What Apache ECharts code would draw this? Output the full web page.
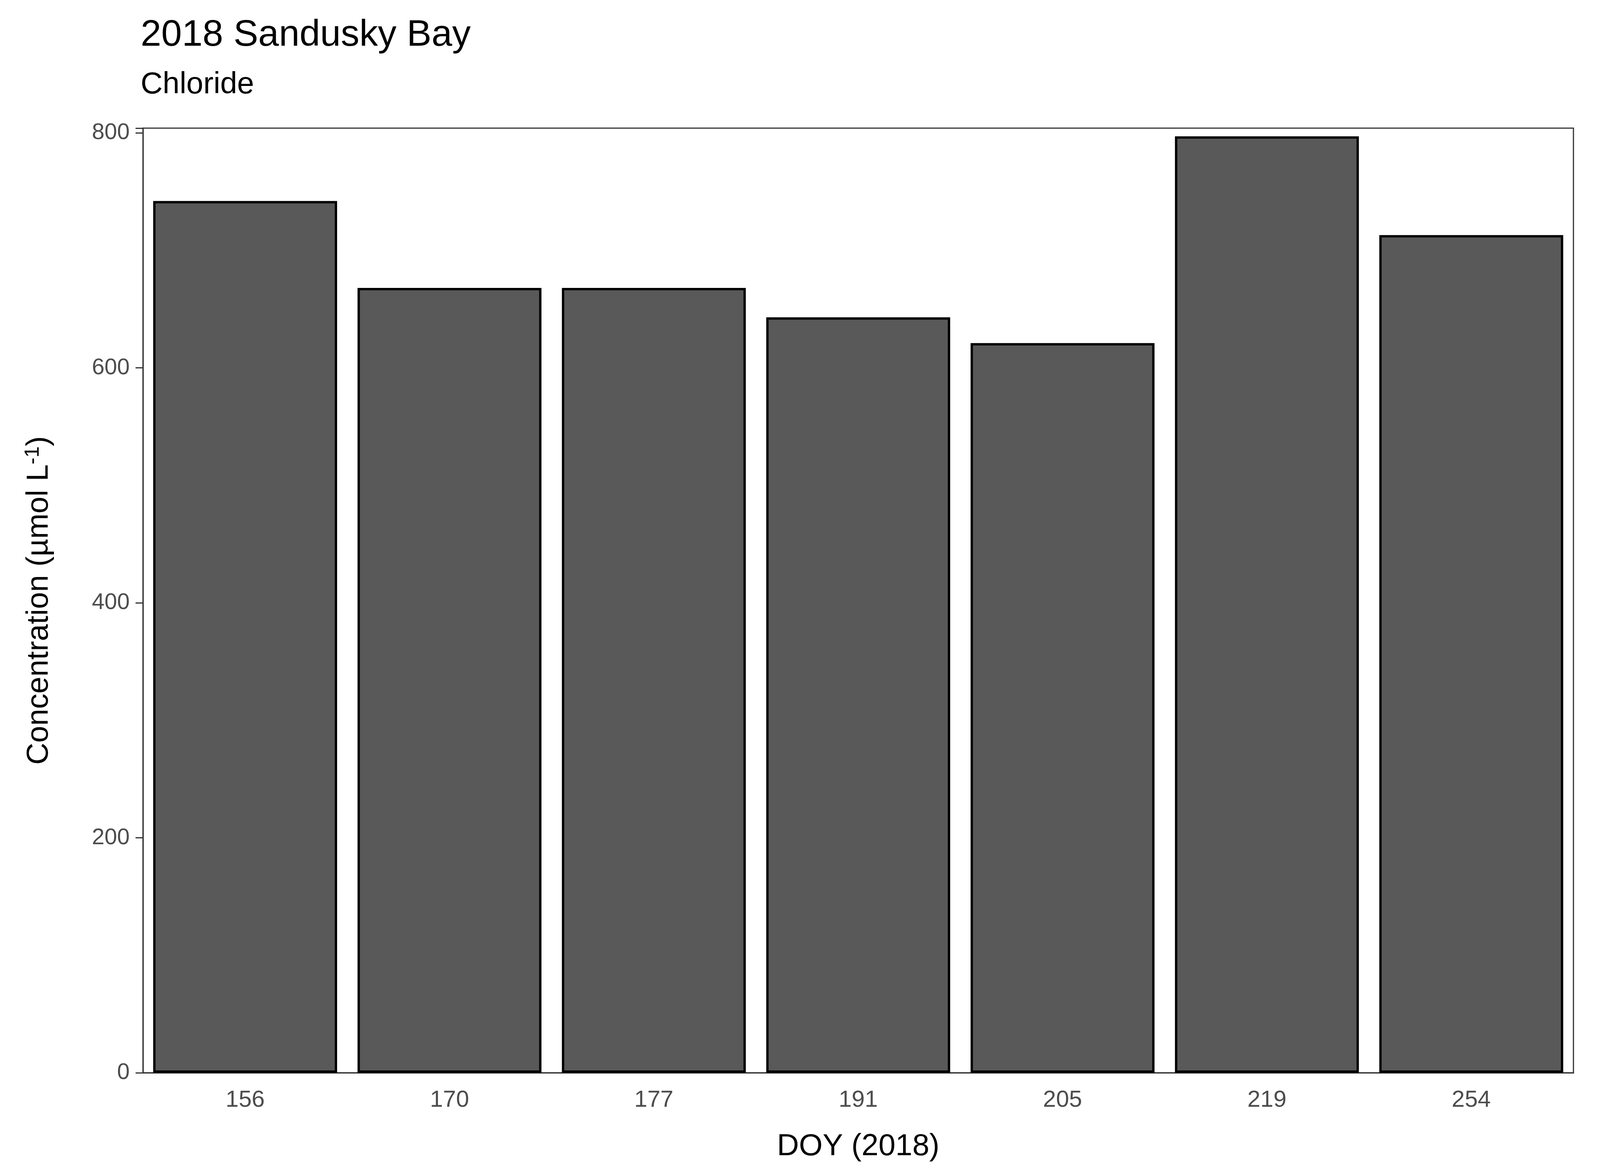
<!DOCTYPE html>
<html><head><meta charset="utf-8">
<script src="https://cdn.jsdelivr.net/npm/echarts@6/dist/echarts.min.js"></script>
<style>html,body{margin:0;padding:0;background:#fff;overflow:hidden}#c{width:100vw;height:100vh}</style>
</head><body><div id="c"></div>
<script>
const categories = ['156','170','177','191','205','219','254'];
const values = [742, 668, 668, 643, 621, 797, 713];
const yTicks = [0, 200, 400, 600, 800];

const chart = echarts.init(document.getElementById('c'));
const font = 'Liberation Sans, Arial, sans-serif';
chart.setOption({
  backgroundColor: '#fff',
  title: {
    text: '2018 Sandusky Bay', subtext: 'Chloride', left: 355, top: 38,
    textStyle: {fontFamily: font, fontSize: 95, fontWeight: 'normal', color: '#000'},
    subtextStyle: {fontFamily: font, fontSize: 78, color: '#000'}, itemGap: 40
  },
  grid: {left: 366, right: 68, top: 328, bottom: 254, show: true, borderColor: '#333', borderWidth: 3, backgroundColor: '#fff'},
  xAxis: {
    type: 'category', data: categories,
    name: 'DOY (2018)', nameLocation: 'middle', nameGap: 150,
    nameTextStyle: {fontFamily: font, fontSize: 78, color: '#000'},
    axisLine: {lineStyle: {color: '#333', width: 3}},
    axisTick: {alignWithLabel: true, length: 19, lineStyle: {color: '#333', width: 3}},
    axisLabel: {fontFamily: font, fontSize: 60, color: '#4d4d4d', margin: 40}
  },
  yAxis: {
    type: 'value', min: 0, max: 804, interval: 200,
    axisLabel: {fontFamily: font, fontSize: 58, color: '#4d4d4d', margin: 34,
      formatter: v => yTicks.includes(v) ? String(v) : ''},
    name: '{a|Concentration (µmol L}{s|-1}{a|)}', nameLocation: 'middle', nameGap: 225, nameRotate: 90,
    nameTextStyle: {rich: {
      a: {fontFamily: font, fontSize: 78, color: '#000'},
      s: {fontFamily: font, fontSize: 52, color: '#000', verticalAlign: 'top', padding: [0,0,30,0]}
    }},
    splitLine: {show: false},
    axisLine: {show: true, lineStyle: {color: '#333', width: 3}},
    axisTick: {show: true, length: 19, lineStyle: {color: '#333', width: 3}}
  },
  series: [{
    type: 'bar', data: values, barCategoryGap: '10%',
    itemStyle: {color: '#595959', borderColor: '#000', borderWidth: 6}
  }]
});
</script></body></html>
